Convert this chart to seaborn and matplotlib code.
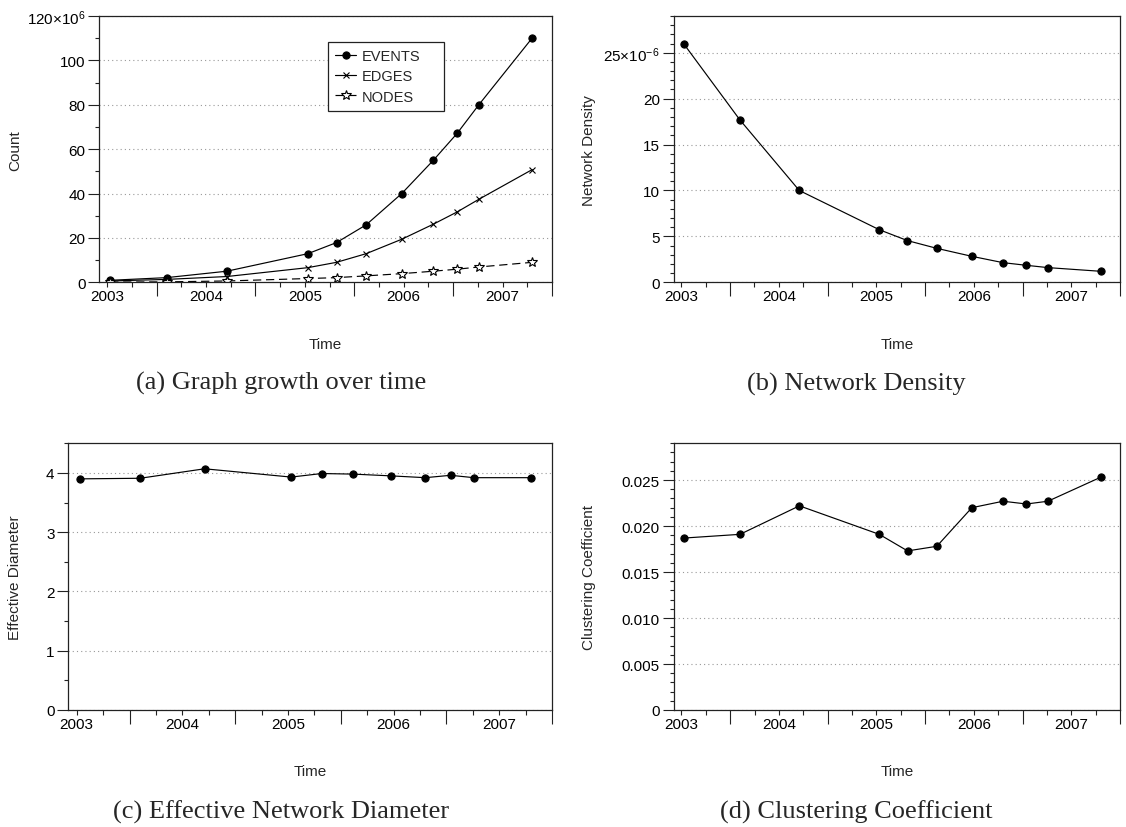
import matplotlib
matplotlib.use("Agg")
import matplotlib.pyplot as plt
import matplotlib.transforms as mtransforms
from matplotlib.ticker import FixedLocator, FuncFormatter, MultipleLocator, NullFormatter
import numpy as np
import seaborn as sns

# ---------------------------------------------------------------- data
# snapshot times (decimal years)
time = [2003.03, 2003.60, 2004.21, 2005.03, 2005.32, 2005.62,
        2005.98, 2006.30, 2006.54, 2006.76, 2007.30]

# graph growth, in millions
events_m = [0.9, 2.1, 5.0, 12.9, 17.9, 25.9, 40.0, 55.0, 67.1, 80.0, 110.1]
edges_m = [0.6, 1.3, 2.6, 6.6, 9.0, 12.9, 19.4, 26.2, 31.7, 37.4, 50.8]
nodes_m = [0.1, 0.2, 0.6, 1.7, 2.1, 2.9, 3.9, 5.0, 5.9, 6.9, 9.0]

# network density, in units of 1e-6
density_u = [25.9, 17.7, 10.0, 5.73, 4.54, 3.70, 2.83, 2.14, 1.85, 1.60, 1.20]

effective_diameter = [3.90, 3.91, 4.07, 3.93, 3.99, 3.98, 3.95, 3.92, 3.96, 3.92, 3.92]

clustering = [0.0187, 0.0191, 0.0222, 0.0191, 0.0173, 0.0178,
              0.0220, 0.0227, 0.0224, 0.0227, 0.0253]

year_labels = [2003, 2004, 2005, 2006, 2007]

count_ticks = [0, 20, 40, 60, 80, 100, 120]
count_tick_labels = ["0", "20", "40", "60", "80", "100", "120\u00d710$^{6}$"]
density_ticks = [0, 5, 10, 15, 20, 25]
density_tick_labels = ["0", "5", "10", "15", "20", "25\u00d710$^{-6}$"]
diameter_ticks = [0, 1, 2, 3, 4]
diameter_tick_labels = ["0", "1", "2", "3", "4"]
clustering_ticks = [0, 0.005, 0.010, 0.015, 0.020, 0.025]
clustering_tick_labels = ["0", "0.005", "0.010", "0.015", "0.020", "0.025"]

captions = ["(a) Graph growth over time", "(b) Network Density",
            "(c) Effective Network Diameter", "(d) Clustering Coefficient"]

# ---------------------------------------------------------------- style
sns.set_style("ticks")
plt.rcParams["font.family"] = ["Liberation Sans", "DejaVu Sans"]
plt.rcParams["mathtext.fontset"] = "custom"
plt.rcParams["mathtext.rm"] = "Liberation Sans"
plt.rcParams["mathtext.it"] = "Liberation Sans:italic"
plt.rcParams["mathtext.bf"] = "Liberation Sans:bold"

INK = "#222222"
W, H = 1126, 828
fig = plt.figure(figsize=(W / 100, H / 100), dpi=100)
fig.patch.set_facecolor("white")


def axes_px(left, top, right, bottom):
    return fig.add_axes([left / W, 1 - bottom / H, (right - left) / W, (bottom - top) / H])


half_years = [y + 0.5 for y in range(2003, 2008)]
quarters = [y + q for y in range(2003, 2008) for q in (0.0, 0.25, 0.75) if y + q <= 2007.5]


def year_fmt(v, pos):
    r = int(round(v))
    return str(r) if abs(v - r) < 1e-6 and r in year_labels else ""


def style(ax, ylim, ticks, labels, minor_step, ylabel, ylabel_x, caption, cap_x, cap_y, time_y):
    ax.set_facecolor("white")
    ax.set_xlim(2002.92, 2007.5)
    ax.set_ylim(*ylim)

    # x axis: long ticks at mid-year, short ticks at quarters, year labels
    ax.xaxis.set_major_locator(FixedLocator(half_years))
    ax.xaxis.set_major_formatter(NullFormatter())
    ax.xaxis.set_minor_locator(FixedLocator(quarters))
    ax.xaxis.set_minor_formatter(FuncFormatter(year_fmt))
    ax.tick_params(axis="x", which="major", direction="out", length=10.3, width=0.8,
                   color=INK)
    ax.tick_params(axis="x", which="minor", direction="out", length=3.6, width=0.8,
                   color=INK, pad=1.5, labelsize=11, labelcolor="black")

    # y axis
    ax.set_yticks(ticks, labels)
    ax.yaxis.set_minor_locator(MultipleLocator(minor_step))
    ax.tick_params(axis="y", which="major", direction="out", length=7.9, width=0.8,
                   color=INK, pad=2, labelsize=11, labelcolor="black")
    ax.tick_params(axis="y", which="minor", direction="out", length=3.1, width=0.8,
                   color=INK)

    ax.grid(axis="y", which="major", linestyle=(0, (1, 2.8)), color="#999999", lw=0.8)
    ax.grid(axis="x", visible=False)
    ax.set_axisbelow(True)

    for s in ax.spines.values():
        s.set_visible(True)
        s.set_color(INK)
        s.set_linewidth(0.9)

    ax.set_xlabel("Time", fontsize=11)
    ax.xaxis.set_label_coords(0.5, 1 - time_y / H,
                              transform=mtransforms.blended_transform_factory(ax.transAxes, fig.transFigure))
    ax.xaxis.label.set_va("center")

    ax.set_ylabel(ylabel, fontsize=11)
    ax.yaxis.set_label_coords(ylabel_x / W, 0.5,
                              transform=mtransforms.blended_transform_factory(fig.transFigure, ax.transAxes))
    ax.yaxis.label.set_va("center")

    fig.text(cap_x / W, 1 - cap_y / H, caption, ha="center", va="center",
             family=["Liberation Serif", "DejaVu Serif"], size=19)


line_kw = dict(color="black", linewidth=0.85, sort=False)

# ---------------------------------------------------------------- (a) growth
ax_a = axes_px(99.3, 17, 552, 283.3)
sns.lineplot(x=time, y=events_m, ax=ax_a, marker="o", markersize=5.2,
             markeredgecolor="black", label="EVENTS", **line_kw)
sns.lineplot(x=time, y=edges_m, ax=ax_a, marker="x", markersize=4.2,
             markeredgewidth=0.8, markeredgecolor="black", label="EDGES", **line_kw)
sns.lineplot(x=time, y=nodes_m, ax=ax_a, marker="*", markersize=7.5,
             markerfacecolor="white", markeredgecolor="black", markeredgewidth=0.8,
             linestyle=(0, (7, 4)), label="NODES", **line_kw)
style(ax_a, (0, 120), count_ticks, count_tick_labels, 10, "Count", 15,
      captions[0], 281, 383, 345)
leg = ax_a.legend(loc="upper left", bbox_to_anchor=(328 / W, 1 - 108 / H, 116 / W, 65 / H),
                  bbox_transform=fig.transFigure, mode="expand", borderaxespad=0,
                  fancybox=False, framealpha=1, edgecolor=INK, fontsize=10.5,
                  handlelength=1.45, handletextpad=0.35, labelspacing=0.42, borderpad=0.5)
leg.get_frame().set_linewidth(0.9)

# ---------------------------------------------------------------- (b) density
ax_b = axes_px(673.5, 17, 1120, 283.3)
sns.lineplot(x=time, y=density_u, ax=ax_b, marker="o", markersize=5.2,
             markeredgecolor="black", **line_kw)
style(ax_b, (0, 29), density_ticks, density_tick_labels, 1, "Network Density", 589,
      captions[1], 856, 384, 345)

# ---------------------------------------------------------------- (c) diameter
ax_c = axes_px(68.3, 444.3, 552, 711)
sns.lineplot(x=time, y=effective_diameter, ax=ax_c, marker="o", markersize=5.2,
             markeredgecolor="black", **line_kw)
style(ax_c, (0, 4.5), diameter_ticks, diameter_tick_labels, 0.5, "Effective Diameter", 15,
      captions[2], 281, 812, 772)

# ---------------------------------------------------------------- (d) clustering
ax_d = axes_px(673.7, 444.3, 1120, 711)
sns.lineplot(x=time, y=clustering, ax=ax_d, marker="o", markersize=5.2,
             markeredgecolor="black", **line_kw)
style(ax_d, (0, 0.029), clustering_ticks, clustering_tick_labels, 0.001,
      "Clustering Coefficient", 589, captions[3], 856, 812, 772)

fig.savefig("out.png", dpi=100, facecolor="white")
